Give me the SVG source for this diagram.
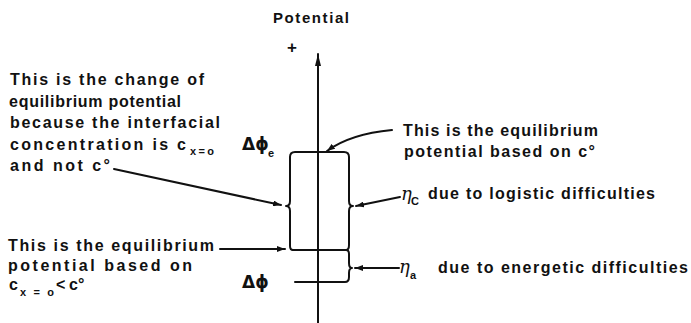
<svg xmlns="http://www.w3.org/2000/svg" width="691" height="323" viewBox="0 0 691 323">
<defs>
<marker id="ah" markerUnits="userSpaceOnUse" markerWidth="8" markerHeight="6" refX="8" refY="3" orient="auto">
<path d="M0,0 L8,3 L0,6 z" fill="#111"/>
</marker>
<marker id="axis" markerUnits="userSpaceOnUse" markerWidth="12" markerHeight="8" refX="12" refY="4" orient="auto" viewBox="0 0 12 8">
<path d="M0,1 L12,4 L0,7 z" fill="#111"/>
</marker>
<style>
text{font-family:"Liberation Sans",Arial,sans-serif;font-weight:bold;font-size:16px;fill:#111}
.sub{font-size:11px}
.gr{font-family:"DejaVu Sans",sans-serif;font-size:17px}
.eta{font-family:"DejaVu Serif",serif;font-style:italic;font-weight:normal;font-size:18px}
.ln{fill:none;stroke:#111;stroke-width:2;stroke-linecap:round;stroke-linejoin:round}
</style>
</defs>
<g id="axis-group">
<line class="ln" x1="318" y1="323" x2="318" y2="54" marker-end="url(#axis)"/>
<text x="273" y="23" textLength="76" lengthAdjust="spacing" style="font-size:15px">Potential</text>
<text x="287" y="53" style="font-size:17px">+</text>
</g>
<g id="bracket">
<path class="ln" d="M293,250 Q290,250 290,246 L290,211 Q290,206 286,206 Q290,206 290,201 L290,157 Q290,152 295,152 L344,152 Q349,152 349,157 L349,201 Q349,206 353,206 Q349,206 349,211 L349,245 Q349,250 346,250 Q349,250 349,254 L349,263 Q349,268 352,268 Q349,268 349,273 L349,277 Q349,282 345,282 L295,282"/>
<line class="ln" x1="293" y1="250" x2="346" y2="250"/>
<text class="gr" x="242" y="150">Δϕ</text>
<text class="sub" x="268" y="157">e</text>
<text class="gr" x="242" y="288">Δϕ</text>
</g>
<g id="note-change">
<text x="10" y="85" textLength="194" lengthAdjust="spacing">This is the change of</text>
<text x="9" y="107" textLength="172" lengthAdjust="spacing">equilibrium potential</text>
<text x="10" y="128" textLength="210" lengthAdjust="spacing">because the interfacial</text>
<text x="10" y="150" textLength="176" lengthAdjust="spacing">concentration is c</text>
<text class="sub" x="190" y="155" textLength="24" lengthAdjust="spacing">x=o</text>
<text x="10" y="171" textLength="100" lengthAdjust="spacing">and not c°</text>
</g>
<g id="note-eq-cx">
<text x="8" y="251" textLength="206" lengthAdjust="spacing">This is the equilibrium</text>
<text x="8" y="271" textLength="184" lengthAdjust="spacing">potential based on</text>
<text x="9" y="290">c</text>
<text class="sub" x="20" y="296" textLength="34" lengthAdjust="spacing">x=o</text>
<text x="56" y="290">&lt;</text>
<text x="69" y="290">c°</text>
</g>
<g id="note-eq-c0">
<text x="403" y="136" textLength="195" lengthAdjust="spacing">This is the equilibrium</text>
<text x="404" y="157" textLength="191" lengthAdjust="spacing">potential based on c°</text>
</g>
<g id="note-etac">
<text class="eta" x="401" y="200">η</text>
<text class="sub" x="411" y="205">C</text>
<text x="428" y="199" textLength="227" lengthAdjust="spacing">due to logistic difficulties</text>
</g>
<g id="note-etaa">
<text class="eta" x="399" y="273">η</text>
<text class="sub" x="410" y="279">a</text>
<text x="438" y="273" textLength="250" lengthAdjust="spacing">due to energetic difficulties</text>
</g>
<g id="connectors">
<path class="ln" d="M392,130 Q350,134 327,151" marker-end="url(#ah)"/>
<path class="ln" d="M114,169 L281,205" marker-end="url(#ah)"/>
<path class="ln" d="M220,249 L285,249" marker-end="url(#ah)"/>
<path class="ln" d="M400,197 L356,206" marker-end="url(#ah)"/>
<path class="ln" d="M399,268 L355,268" marker-end="url(#ah)"/>
</g>
</svg>
